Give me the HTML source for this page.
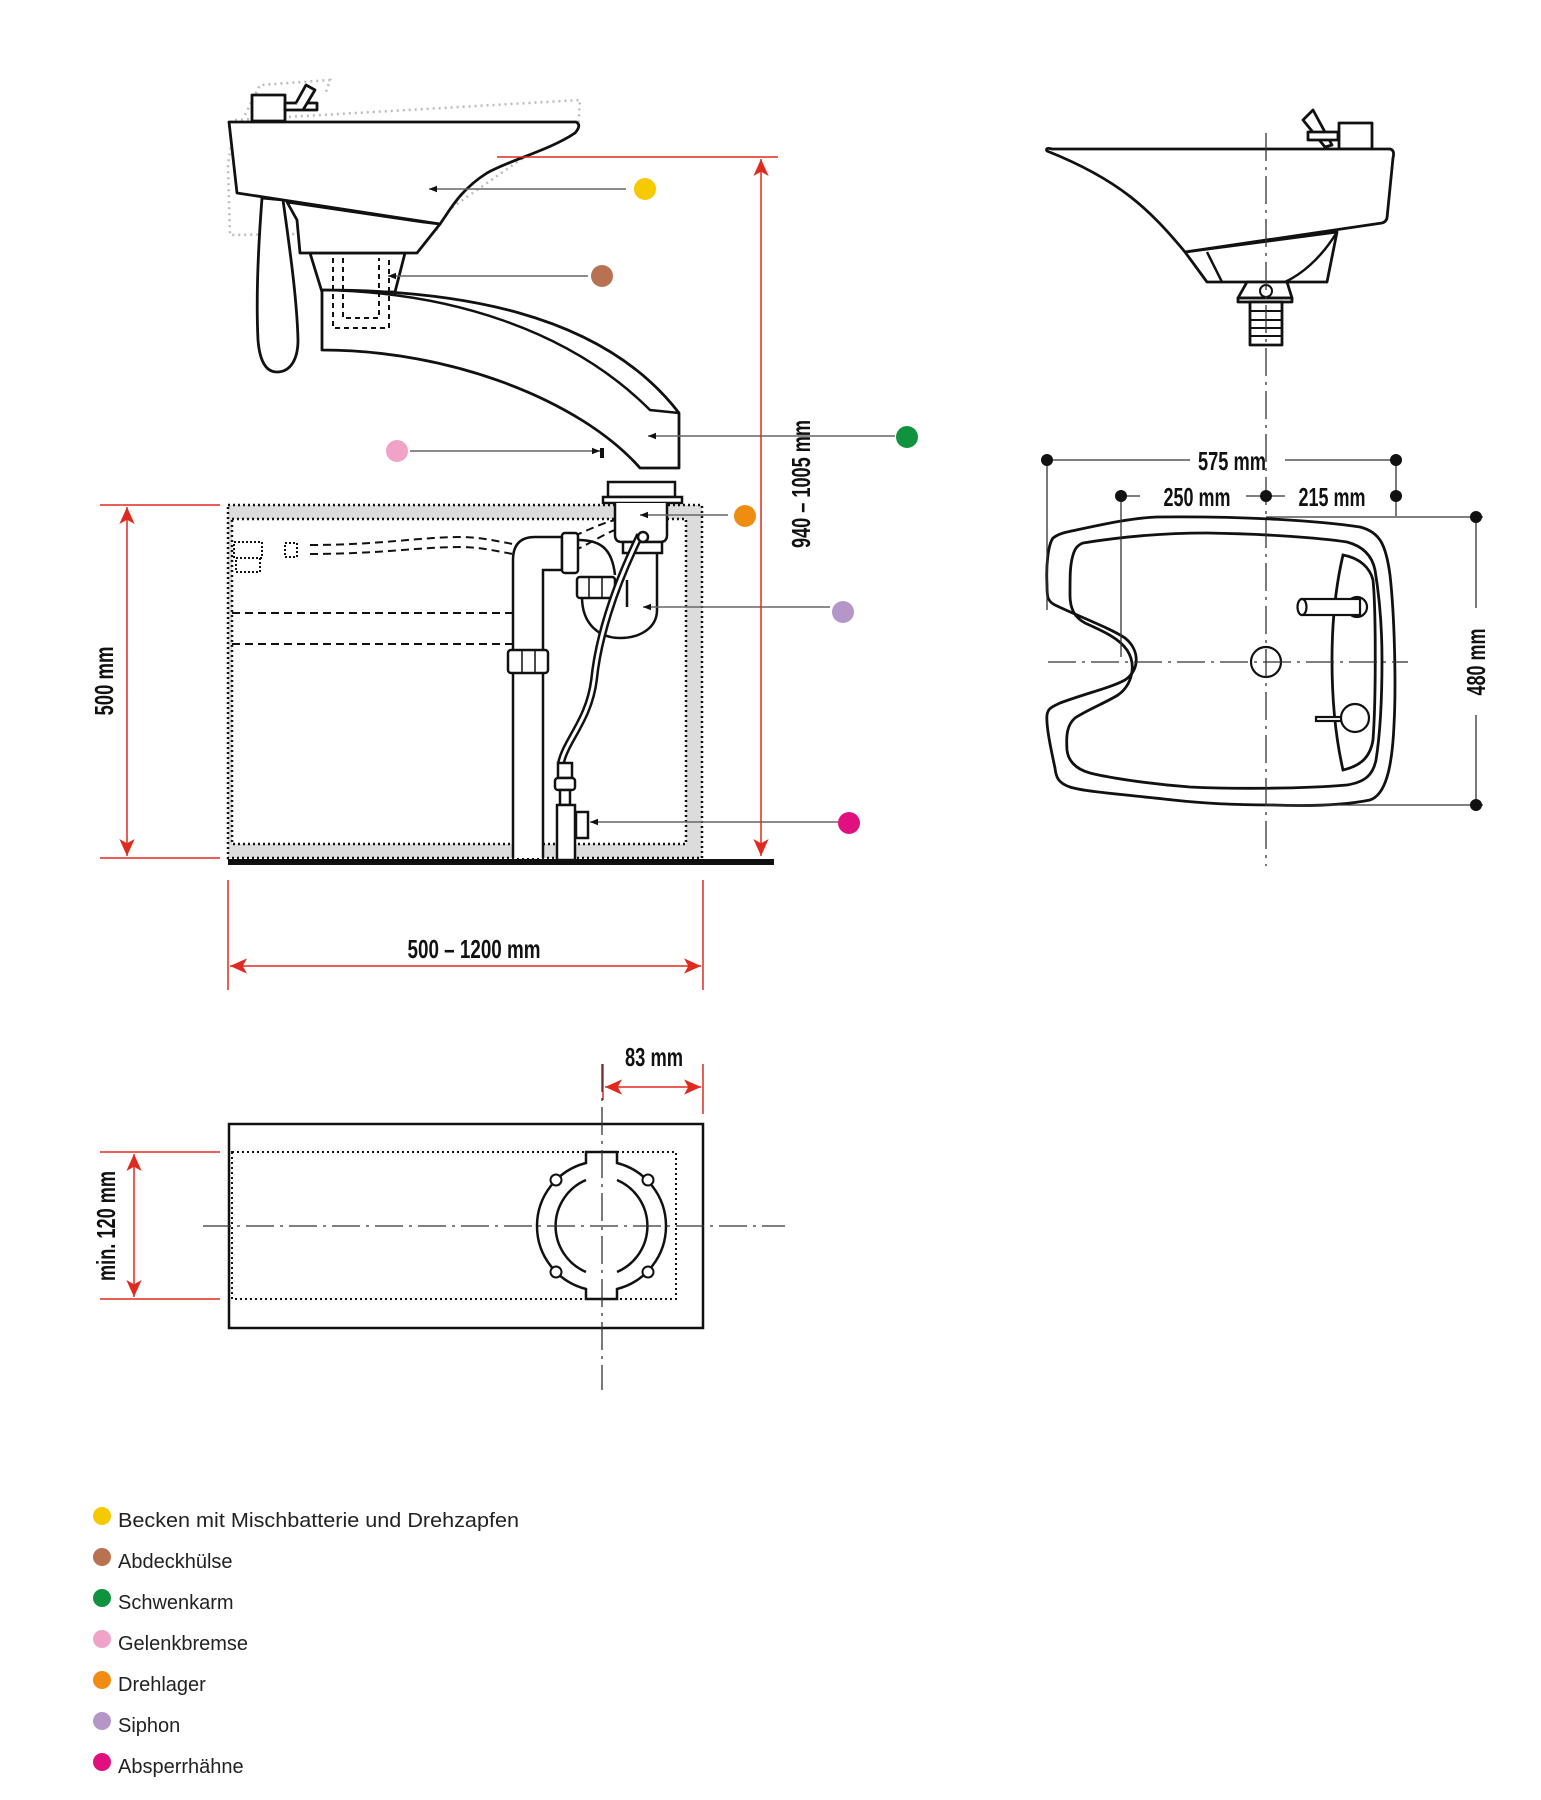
<!DOCTYPE html>
<html><head><meta charset="utf-8"><style>
html,body{margin:0;padding:0;background:#fff}
svg{display:block}
.d{font-family:"Liberation Sans Narrow","Liberation Sans",sans-serif;font-weight:bold;fill:#111;font-size:26px}
.lg{font-family:"Liberation Sans",sans-serif;font-size:20px;fill:#222}
</style></head><body>
<svg width="1541" height="1800" viewBox="0 0 1541 1800" xmlns="http://www.w3.org/2000/svg">
<defs>
<marker id="ra" viewBox="0 0 10 10" refX="10" refY="5" markerWidth="17" markerHeight="17" markerUnits="userSpaceOnUse" orient="auto-start-reverse"><path d="M0,0.5 L10,5 L0,9.5 L2.5,5z" fill="#e02a1f"/></marker>
<marker id="ba" viewBox="0 0 10 10" refX="10" refY="5" markerWidth="8" markerHeight="8" markerUnits="userSpaceOnUse" orient="auto"><path d="M0,1 L10,5 L0,9z" fill="#111"/></marker>
</defs>

<!-- cabinet -->
<path d="M228,505 H702 V858 H228z M232,519 V844 H686 V519z" fill="#dcdcdc" fill-rule="evenodd"/>
<rect x="228" y="505" width="474" height="353" fill="none" stroke="#111" stroke-width="2.5" stroke-dasharray="2,3"/>
<rect x="232" y="519" width="454" height="325" fill="none" stroke="#111" stroke-width="2.5" stroke-dasharray="2,3"/>
<rect x="228" y="859" width="546" height="6" fill="#111"/>

<g fill="none" stroke="#111" stroke-width="2" stroke-dasharray="8,5">
<path d="M310,545 C380,545 420,537 460,537 C490,537 505,545 545,548"/>
<path d="M310,554 C380,554 420,547 460,547 C490,547 505,555 545,558"/>
<path d="M232,613 H540"/>
<path d="M232,644 H520 C532,640 540,630 542,620"/>
<path d="M562,540 C580,535 595,525 615,520"/>
<path d="M562,555 C585,548 600,535 620,528"/>
</g>
<g fill="none" stroke="#111" stroke-width="2" stroke-dasharray="2,2">
<rect x="234" y="542" width="28" height="16"/><rect x="236" y="558" width="24" height="14"/>
<rect x="285" y="543" width="12" height="14"/>
</g>

<g fill="#fff" stroke="#111" stroke-width="2.5">
<path d="M513,858 V560 C513,545 520,537 535,537 H562 V570 H543 V858"/>
<rect x="562" y="533" width="16" height="40" rx="3"/>
<path d="M578,540 C600,540 612,548 615,575" fill="none"/>
<path d="M582,597 C582,625 600,638 620,638 C640,638 657,628 657,610 V552" fill="#fff"/>
<path d="M627,580 V607" fill="none"/>
<rect x="577" y="577" width="38" height="21" rx="3"/>
<rect x="508" y="650" width="40" height="23" rx="3"/>
<rect x="608" y="482" width="67" height="15"/>
<rect x="603" y="497" width="79" height="6"/>
<path d="M615,503 V535 Q615,542 622,542 H660 Q667,542 667,535 V503"/>
<rect x="623" y="542" width="39" height="11"/>
<path d="M640,535 C613,590 598,640 594,680 C589,720 566,740 561,763" fill="none" stroke-width="8"/>
<path d="M640,535 C613,590 598,640 594,680 C589,720 566,740 561,763" fill="none" stroke="#fff" stroke-width="3"/>
<circle cx="643" cy="537" r="5"/>
<rect x="558" y="763" width="14" height="15"/>
<rect x="555" y="778" width="20" height="12" rx="3"/>
<rect x="560" y="790" width="10" height="15"/>
<rect x="557" y="805" width="18" height="55"/>
<rect x="576" y="812" width="12" height="26"/>
</g>
<g stroke="#111" stroke-width="1.5"><path d="M522,650 V673 M535,650 V673 M589,577 V598 M602,577 V598"/></g>

<g fill="none" stroke="#bbb" stroke-width="2.5" stroke-dasharray="2,4">
<path d="M235,120 L580,100 L578,130 L520,160 C470,195 440,215 420,232 L230,235 L228,165z"/>
<path d="M245,115 L260,85 L330,80 L325,95"/>
<path d="M300,205 L440,230"/>
<path d="M330,253 L300,220"/>
</g>
<g fill="#fff" stroke="#111" stroke-width="2.8" stroke-linejoin="round">
<rect x="252" y="95" width="33" height="26"/>
<rect x="285" y="103" width="32" height="7"/>
<path d="M296,103 L306,85 L315,90 L303,110"/>
<path d="M310,253 H405 L395,292 H322z"/>
<path d="M297,220 L300,253 H417 L440,224 L423,222 L287,202z"/>
<path d="M229,122 H576 Q582,125 575,133 C550,150 510,160 487,173 C460,190 450,210 440,224 L237,193z"/>
<path d="M262,198 C258,250 256,300 258,340 C260,365 268,372 277,372 C290,372 298,360 298,340 C297,300 290,250 283,200z"/>
<path d="M322,290 C450,290 600,310 679,413 V468 H640 C580,400 450,350 322,350z"/>
</g>
<path d="M322,290 C450,292 570,330 650,410 L679,413" fill="none" stroke="#111" stroke-width="2.5"/>
<g fill="none" stroke="#111" stroke-width="2" stroke-dasharray="5,4">
<path d="M333,258 V328 H389 V258"/><path d="M343,258 V318 H379 V258"/>
</g>
<rect x="600" y="448" width="4" height="10" fill="#111"/>

<g stroke="#666" stroke-width="1.5" fill="none" marker-end="url(#ba)">
<path d="M626,189 H429"/>
<path d="M588,276 H388"/>
<path d="M410,451 H600"/>
<path d="M895,436 H648"/>
<path d="M728,515 H640"/>
<path d="M830,607 H643"/>
<path d="M838,822 H590"/>
</g>
<circle cx="645" cy="189" r="11" fill="#f7c900"/>
<circle cx="602" cy="276" r="11" fill="#b97251"/>
<circle cx="397" cy="451" r="11" fill="#f1a2c7"/>
<circle cx="907" cy="437" r="11" fill="#10933f"/>
<circle cx="745" cy="516" r="11" fill="#ef8c12"/>
<circle cx="843" cy="612" r="11" fill="#b497c8"/>
<circle cx="849" cy="823" r="11" fill="#e0117e"/>

<g stroke="#e02a1f" stroke-width="1.5" fill="none">
<path d="M100,505 H220 M100,858 H220"/>
<path d="M127,507 V856" marker-start="url(#ra)" marker-end="url(#ra)"/>
<path d="M497,157 H778"/>
<path d="M761,159 V856" marker-start="url(#ra)" marker-end="url(#ra)"/>
<path d="M228,880 V990 M703,880 V990"/>
<path d="M230,966 H701" marker-start="url(#ra)" marker-end="url(#ra)"/>
<path d="M703,1064 V1114 M603,1064 V1100"/>
<path d="M605,1087 H701" marker-start="url(#ra)" marker-end="url(#ra)"/>
<path d="M100,1152 H220 M100,1299 H220"/>
<path d="M134,1154 V1297" marker-start="url(#ra)" marker-end="url(#ra)"/>
</g>
<text class="d" transform="translate(113,681) rotate(-90)" text-anchor="middle" textLength="69" lengthAdjust="spacingAndGlyphs">500 mm</text>
<text class="d" transform="translate(810,484) rotate(-90)" text-anchor="middle" textLength="128" lengthAdjust="spacingAndGlyphs">940 – 1005 mm</text>
<text class="d" x="474" y="958" text-anchor="middle" textLength="133" lengthAdjust="spacingAndGlyphs">500 – 1200 mm</text>
<text class="d" x="654" y="1066" text-anchor="middle" textLength="58" lengthAdjust="spacingAndGlyphs">83 mm</text>
<text class="d" transform="translate(115,1226) rotate(-90)" text-anchor="middle" textLength="110" lengthAdjust="spacingAndGlyphs">min. 120 mm</text>

<rect x="229" y="1124" width="474" height="204" fill="none" stroke="#111" stroke-width="2.5"/>
<rect x="232" y="1152" width="444" height="147" fill="none" stroke="#111" stroke-width="2" stroke-dasharray="2,3"/>
<g fill="#fff" stroke="#111" stroke-width="2.5">
<path d="M586,1152 H617 V1163 A65,65 0 0 1 617,1289 V1299 H586 V1289 A65,65 0 0 1 586,1163z"/>
</g>
<path d="M586,1180 A50,50 0 0 0 586,1272 M617,1180 A50,50 0 0 1 617,1272" fill="none" stroke="#111" stroke-width="2.5"/>
<g fill="#fff" stroke="#111" stroke-width="2"><circle cx="556" cy="1180" r="5.5"/><circle cx="648" cy="1180" r="5.5"/><circle cx="556" cy="1272" r="5.5"/><circle cx="648" cy="1272" r="5.5"/></g>
<g stroke="#333" stroke-width="1.3" stroke-dasharray="28,6,3,6" fill="none">
<path d="M203,1226 H785"/><path d="M602,1064 V1390"/>
</g>

<g fill="#fff" stroke="#111" stroke-width="2.8" stroke-linejoin="round">
<rect x="1339" y="123" width="33" height="26"/>
<path d="M1303,120 L1313,110 L1332,145 L1325,147z"/>
<rect x="1308" y="132" width="30" height="8"/>
<path d="M1185,252 L1207,282 H1327 L1337,232z"/>
<path d="M1047,151 Q1045,147 1052,149 H1390 Q1395,150 1393,158 L1387,218 Q1386,222 1382,223 L1185,252 C1150,210 1120,180 1047,151z"/>
<path d="M1247,282 H1287 L1292,298 H1238z"/>
<rect x="1238" y="298" width="54" height="4"/>
<rect x="1250" y="302" width="32" height="43"/>
</g>
<path d="M1337,232 C1320,260 1300,275 1285,282" fill="none" stroke="#111" stroke-width="2.5"/>
<path d="M1207,252 L1222,282" fill="none" stroke="#111" stroke-width="2.5"/>
<circle cx="1266" cy="291" r="6" fill="#fff" stroke="#111" stroke-width="2"/>
<g stroke="#111" stroke-width="2"><path d="M1250,311 H1282 M1250,320 H1282 M1250,328 H1282 M1250,336 H1282"/></g>

<g fill="none" stroke="#111" stroke-width="2.8">
<path d="M1067,532 C1100,525 1130,518 1157,517 C1250,516 1320,521 1360,527 C1380,532 1386,545 1390,575 C1395,620 1396,690 1394,725 C1392,770 1385,795 1370,800 C1340,806 1300,806 1273,805 C1230,805 1200,803 1173,800 C1130,795 1085,792 1070,787 C1058,783 1056,777 1055,768 C1050,745 1046,725 1047,715 C1048,708 1052,707 1060,703 C1090,692 1110,688 1125,680 C1140,670 1140,650 1125,638 C1110,628 1080,617 1055,605 C1047,601 1047,596 1047,585 C1046,565 1048,545 1053,538 C1057,535 1062,533 1067,532z"/>
<path d="M1083,543 C1120,537 1160,533 1207,533 C1270,534 1320,538 1347,542 C1362,546 1372,555 1375,570 C1380,600 1382,630 1382,660 C1382,700 1380,735 1376,760 C1373,775 1365,782 1347,785 C1300,789 1230,789 1190,787 C1150,784 1110,778 1090,773 C1075,769 1068,760 1067,750 C1066,735 1067,725 1075,718 C1087,710 1105,703 1118,695 C1132,685 1137,665 1127,650 C1118,637 1100,630 1085,623 C1074,617 1070,608 1070,595 C1070,575 1070,565 1073,555 C1075,548 1078,545 1083,543z"/>
<path d="M1343,555 C1360,558 1370,568 1373,580 C1376,610 1376,700 1373,740 C1370,758 1360,766 1343,770 C1335,735 1332,700 1332,660 C1332,620 1336,585 1343,555z"/>
</g>
<g fill="#fff" stroke="#111" stroke-width="2.2">
<circle cx="1357" cy="607" r="10"/>
<rect x="1302" y="599" width="58" height="16"/>
<ellipse cx="1302" cy="607" rx="4.5" ry="8"/>
<rect x="1316" y="717" width="26" height="4"/>
<circle cx="1355" cy="718" r="14"/>
<circle cx="1266" cy="662" r="15"/>
</g>
<g stroke="#333" stroke-width="1.3" stroke-dasharray="28,6,3,6" fill="none">
<path d="M1048,662 H1408"/><path d="M1266,133 V866"/>
</g>
<g stroke="#333" stroke-width="1.3" fill="none">
<path d="M1047,460 H1190 M1285,460 H1396"/>
<path d="M1121,496 H1140 M1246,496 H1285"/>
<path d="M1047,460 V610 M1121,496 V657 M1396,460 V516"/>
<path d="M1266,517 H1483 M1265,805 H1483"/>
<path d="M1476,517 V608 M1476,715 V805"/>
</g>
<g fill="#111"><circle cx="1047" cy="460" r="6"/><circle cx="1396" cy="460" r="6"/>
<circle cx="1121" cy="496" r="6"/><circle cx="1266" cy="496" r="6"/><circle cx="1396" cy="496" r="6"/>
<circle cx="1476" cy="517" r="6"/><circle cx="1476" cy="805" r="6"/></g>
<text class="d" x="1232" y="470" text-anchor="middle" textLength="68" lengthAdjust="spacingAndGlyphs">575 mm</text>
<text class="d" x="1197" y="506" text-anchor="middle" textLength="67" lengthAdjust="spacingAndGlyphs">250 mm</text>
<text class="d" x="1332" y="506" text-anchor="middle" textLength="67" lengthAdjust="spacingAndGlyphs">215 mm</text>
<text class="d" transform="translate(1485,662) rotate(-90)" text-anchor="middle" textLength="67" lengthAdjust="spacingAndGlyphs">480 mm</text>

<g>
<circle cx="102" cy="1516" r="9" fill="#f7c900"/>
<circle cx="102" cy="1557" r="9" fill="#b97251"/>
<circle cx="102" cy="1598" r="9" fill="#10933f"/>
<circle cx="102" cy="1639" r="9" fill="#f1a2c7"/>
<circle cx="102" cy="1680" r="9" fill="#ef8c12"/>
<circle cx="102" cy="1721" r="9" fill="#b497c8"/>
<circle cx="102" cy="1762" r="9" fill="#e0117e"/>
<text class="lg" x="118" y="1527" textLength="401" lengthAdjust="spacingAndGlyphs">Becken mit Mischbatterie und Drehzapfen</text>
<text class="lg" x="118" y="1568">Abdeckhülse</text>
<text class="lg" x="118" y="1609">Schwenkarm</text>
<text class="lg" x="118" y="1650">Gelenkbremse</text>
<text class="lg" x="118" y="1691">Drehlager</text>
<text class="lg" x="118" y="1732">Siphon</text>
<text class="lg" x="118" y="1773">Absperrhähne</text>
</g>
</svg>
</body></html>
